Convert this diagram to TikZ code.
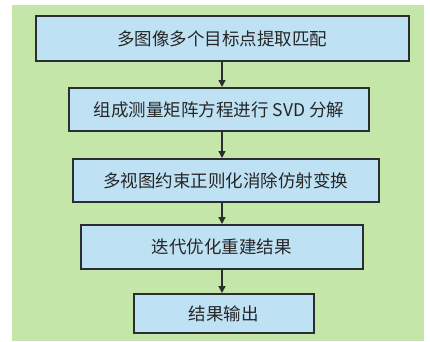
\documentclass[tikz,border=0pt]{standalone}
\usepackage{fontspec}
\newfontfamily\cjk{Noto Sans CJK SC}
\usetikzlibrary{arrows.meta}
\definecolor{bggreen}{HTML}{C4E7A9}
\definecolor{boxblue}{HTML}{BFE1F4}
\definecolor{edge}{HTML}{2A2E30}
\begin{document}
\begin{tikzpicture}[x=1pt,y=-1pt,
  stepbox/.style={draw=edge,line width=1.8pt,fill=boxblue,inner sep=0pt,font=\cjk\fontsize{17.5}{20}\selectfont,text=black!85},
  flow/.style={draw=edge,line width=1.4pt,-{Triangle[length=7pt,width=7pt]}}]
\useasboundingbox (0,0) rectangle (430,341);
\fill[white] (0,0) rectangle (430,341);
\fill[bggreen] (12,5) rectangle (424,341);
\node[stepbox,minimum width=373pt,minimum height=45pt,anchor=north west] (b1) at (35,15) {多图像多个目标点提取匹配};
\node[stepbox,minimum width=300pt,minimum height=43pt,anchor=north west] (b2) at (68,87) {组成测量矩阵方程进行 SVD 分解};
\node[stepbox,minimum width=306pt,minimum height=43pt,anchor=north west] (b3) at (72,158) {多视图约束正则化消除仿射变换};
\node[stepbox,minimum width=282pt,minimum height=44pt,anchor=north west] (b4) at (80,224) {迭代优化重建结果};
\node[stepbox,minimum width=180pt,minimum height=39pt,anchor=north west] (b5) at (133,293) {结果输出};
\coordinate (ax) at (222,0);
\draw[flow] (b1.south -| ax) -- (b2.north -| ax);
\draw[flow] (b2.south -| ax) -- (b3.north -| ax);
\draw[flow] (b3.south -| ax) -- (b4.north -| ax);
\draw[flow] (b4.south -| ax) -- (b5.north -| ax);
\end{tikzpicture}
\end{document}
